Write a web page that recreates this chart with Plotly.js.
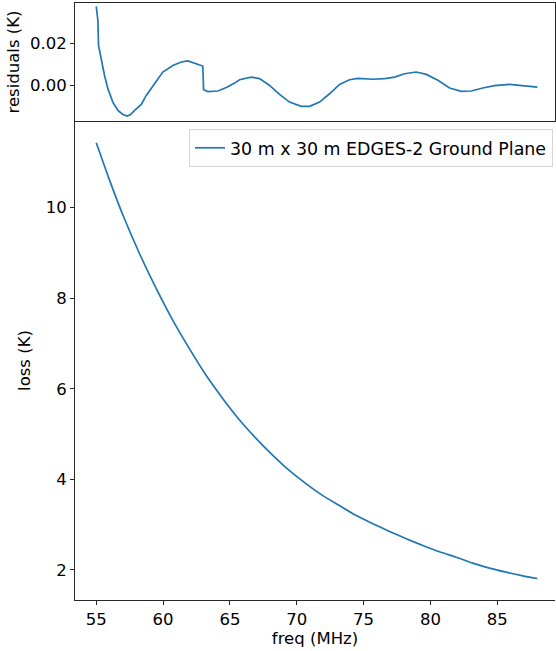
<!DOCTYPE html>
<html>
<head>
<meta charset="utf-8">
<script src="https://cdn.plot.ly/plotly-3.0.1.min.js"></script>
<style>
  html, body { margin: 0; padding: 0; background: #fff; overflow: hidden; }
  #chart { width: 556px; height: 651px; }
</style>
</head>
<body>
<div id="chart"></div>
<script>
// Ground-plane loss for the 30 m x 30 m EDGES-2 ground plane, and residuals of a fit
const lossFreq = [55.0, 56.0, 57.0, 58.24, 59.49, 60.73, 61.98, 63.23, 64.47, 65.72,
  66.97, 68.21, 69.46, 70.71, 71.95, 73.2, 74.45, 75.69, 76.94, 78.19,
  79.43, 80.68, 81.93, 83.17, 84.42, 85.67, 86.91, 88.0];
const lossK = [11.43, 10.60, 9.83, 8.98, 8.21, 7.51, 6.88, 6.29, 5.78, 5.31,
  4.90, 4.53, 4.19, 3.90, 3.64, 3.42, 3.20, 3.02, 2.85, 2.69,
  2.54, 2.40, 2.28, 2.15, 2.04, 1.95, 1.87, 1.81];

const residFreq = [55.0, 55.12, 55.17, 55.37, 55.62, 55.87, 56.24, 56.62, 56.99, 57.32,
  57.57, 57.87, 58.37, 58.74, 59.23, 59.98, 60.73, 61.36, 61.85, 62.35,
  62.97, 63.03, 63.35, 64.1, 64.73, 65.35, 65.72, 66.6, 67.22, 67.97,
  68.71, 69.46, 70.34, 70.96, 71.71, 72.45, 73.2, 73.95, 74.57, 75.69,
  76.57, 77.32, 78.06, 78.94, 79.69, 80.56, 81.43, 82.31, 83.05, 83.92,
  84.8, 85.92, 87.04, 88.0];
const residK = [0.0372, 0.0307, 0.0189, 0.0119, 0.0048, -0.0014, -0.0077, -0.0116, -0.0135, -0.0143,
  -0.0136, -0.0116, -0.0088, -0.0046, -0.0003, 0.0064, 0.0095, 0.0111, 0.0116, 0.0106,
  0.0092, -0.0019, -0.0028, -0.0025, -0.0009, 0.0012, 0.0028, 0.0040, 0.0033, 0.0001,
  -0.0041, -0.0077, -0.0097, -0.0097, -0.0077, -0.0038, 0.0006, 0.0028, 0.0034, 0.0030,
  0.0033, 0.0040, 0.0056, 0.0064, 0.0053, 0.0025, -0.0011, -0.0027, -0.0025, -0.0011,
  0.0000, 0.0006, -0.0002, -0.0007];

const seriesName = '30 m x 30 m EDGES-2 Ground Plane';
const xTicks = [55, 60, 65, 70, 75, 80, 85];
const lossTicks = [2, 4, 6, 8, 10];
const residTicks = [0, 0.02];

const lineColor = '#1f77b4';
const axisColor = '#262626';
const font = { family: 'DejaVu Sans, sans-serif', size: 16.5, color: '#000' };

const traces = [
  {
    x: residFreq, y: residK, xaxis: 'x2', yaxis: 'y2',
    type: 'scatter', mode: 'lines', showlegend: false,
    line: { color: lineColor, width: 1.7 }
  },
  {
    x: lossFreq, y: lossK, xaxis: 'x', yaxis: 'y',
    type: 'scatter', mode: 'lines', name: seriesName,
    line: { color: lineColor, width: 1.7, shape: 'spline', smoothing: 0.6 }
  }
];

const splitY = 0.8023;

const layout = {
  width: 556, height: 651,
  margin: { l: 75, r: 1, t: 3, b: 51 },
  paper_bgcolor: '#fff', plot_bgcolor: '#fff',
  font: font,
  showlegend: true,
  legend: {
    x: 0.2375, y: 0.789, xanchor: 'left', yanchor: 'top',
    bgcolor: 'rgba(255,255,255,0.9)', bordercolor: '#d6d6d6', borderwidth: 1,
    font: { family: font.family, size: 17.4, color: '#000' }
  },
  xaxis: {
    range: [53.41, 89.32], domain: [0, 1], anchor: 'y',
    tickmode: 'array', tickvals: xTicks, ticktext: xTicks.map(String),
    ticks: 'outside', ticklen: 4, tickwidth: 1, tickcolor: axisColor,
    showline: true, linecolor: axisColor, linewidth: 1,
    showgrid: false, zeroline: false,
    title: { text: 'freq (MHz)', font: font, standoff: 4 }
  },
  // the residual panel has its own x axis so that it can carry a full frame
  xaxis2: {
    range: [53.41, 89.32], domain: [0, 1], anchor: 'y2', matches: 'x',
    showticklabels: false, ticks: '',
    showline: true, mirror: true, linecolor: axisColor, linewidth: 1,
    showgrid: false, zeroline: false
  },
  yaxis: {
    domain: [0, splitY], range: [1.336, 11.91], anchor: 'x',
    tickmode: 'array', tickvals: lossTicks, ticktext: lossTicks.map(String),
    ticks: 'outside', ticklen: 4, tickwidth: 1, tickcolor: axisColor,
    showline: true, linecolor: axisColor, linewidth: 1,
    showgrid: false, zeroline: false,
    title: { text: 'loss (K)', font: font, standoff: 10 }
  },
  yaxis2: {
    domain: [splitY, 1], range: [-0.0166, 0.0388], anchor: 'x2',
    tickmode: 'array', tickvals: residTicks, ticktext: residTicks.map(v => v.toFixed(2)),
    ticks: 'outside', ticklen: 4, tickwidth: 1, tickcolor: axisColor,
    showline: true, mirror: true, linecolor: axisColor, linewidth: 1,
    showgrid: false, zeroline: false,
    title: { text: 'residuals (K)', font: font, standoff: 6 }
  }
};

Plotly.newPlot('chart', traces, layout, { staticPlot: true, displayModeBar: false });
</script>
</body>
</html>
